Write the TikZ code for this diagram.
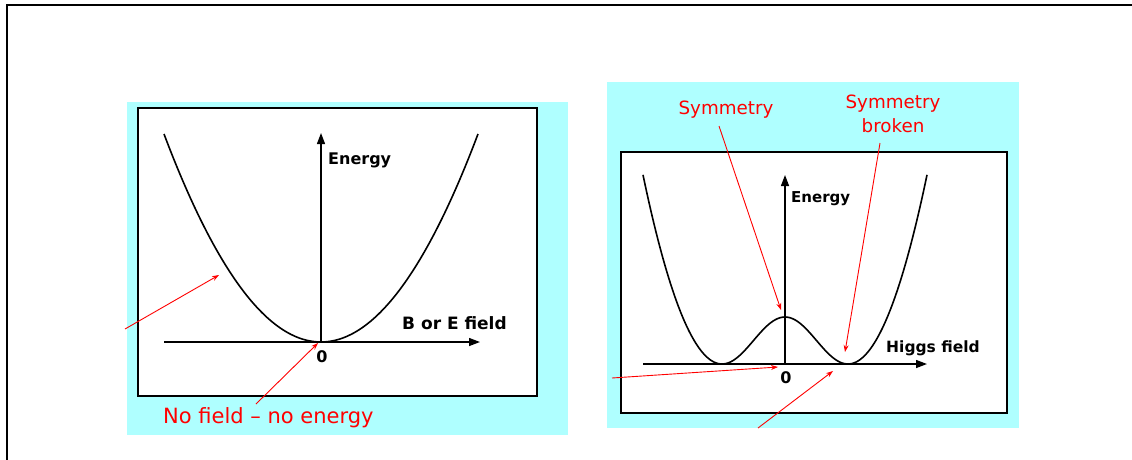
\documentclass[tikz,border=0pt]{standalone}
\usepackage{fontspec}
\setmainfont{DejaVu Sans}
\usetikzlibrary{arrows.meta}
\definecolor{cyanbg}{RGB}{175,255,255}
\definecolor{redl}{RGB}{255,0,0}
\begin{document}
\begin{tikzpicture}[x=1pt,y=-1pt,
  plotbox/.style={draw=black, line width=1.8pt, fill=white},
  axisline/.style={line width=1.3pt, -{Triangle[length=11pt,width=8pt]}},
  curveline/.style={line width=1.6pt},
  lab/.style={font=\bfseries\fontsize{16}{18}\selectfont, inner sep=0pt},
  redlab/.style={text=redl, inner sep=0pt, align=center},
  redarrow/.style={draw=redl, line width=0.9pt, -{Stealth[length=7pt,width=5pt]}}]
\useasboundingbox (0,0) rectangle (1132,459);
\fill[white] (0,0) rectangle (1132,459);
\draw[line width=2pt] (7,460) -- (7,5) -- (1133,5);

% ---------- left panel ----------
\fill[cyanbg] (127,102) rectangle (568,435);
\draw[plotbox] (138,108) rectangle (537,396);
\coordinate (lo) at (321,342);
\coordinate (lyt) at (321,133);
\coordinate (lxs) at (164,342);
\coordinate (lxt) at (480,342);
\draw[axisline] (lo) -- (lyt);
\draw[axisline] (lxs) -- (lxt);
\draw[curveline] plot[domain=-157:157, samples=80, smooth] ({321+\x},{342-208*(\x/157)^2});
\node[lab, anchor=west] (le) at (328,160) {Energy};
\node[lab, anchor=west, font=\bfseries\fontsize{17}{19}\selectfont] (lb) at (402,323) {B or E field};
\node[lab] (l0) at (322,357) {0};
\node[redlab, font=\fontsize{21}{24}\selectfont, anchor=west] (lnf) at (163,418) {No field – no energy};
\coordinate (la1s) at (125,329);
\coordinate (la1e) at (219,275);
\draw[redarrow] (la1s) -- (la1e);
\coordinate (la2s) at (256,404);
\coordinate (la2e) at (318,343);
\draw[redarrow] (la2s) -- (la2e);

% ---------- right panel ----------
\fill[cyanbg] (607,82) rectangle (1019,428);
\draw[plotbox] (621,152) rectangle (1007,413);
\coordinate (ro) at (785,364);
\coordinate (ryt) at (785,175);
\coordinate (rxs) at (643,364);
\coordinate (rxt) at (927,364);
\draw[axisline] (ro) -- (ryt);
\draw[axisline] (rxs) -- (rxt);
\draw[curveline] plot[domain=-142:-63, samples=40, smooth] ({785+\x},{364-0.0303*(-\x-63)^2})
  -- plot[domain=-63:63, samples=60, smooth] ({785+\x},{364-23.5*(1+cos(180*\x/63))})
  -- plot[domain=63:142, samples=40, smooth] ({785+\x},{364-0.0303*(\x-63)^2});
\node[lab, anchor=west, font=\bfseries\fontsize{15}{17}\selectfont] (re) at (791,199) {Energy};
\node[lab, anchor=west, font=\bfseries\fontsize{15.5}{17}\selectfont] (rh) at (886,348) {Higgs field};
\node[lab] (r0) at (786,378) {0};
\node[redlab, font=\fontsize{18.3}{24}\selectfont] (rs) at (726,110) {Symmetry};
\node[redlab, font=\fontsize{18.3}{24.5}\selectfont] (rsb) at (893,114) {Symmetry\\broken};
\coordinate (ra1s) at (719,126);
\coordinate (ra1e) at (781,310);
\draw[redarrow] (ra1s) -- (ra1e);
\coordinate (ra2s) at (880,143);
\coordinate (ra2e) at (845,352);
\draw[redarrow] (ra2s) -- (ra2e);
\coordinate (ra3s) at (612,378);
\coordinate (ra3e) at (778,367);
\draw[redarrow] (ra3s) -- (ra3e);
\coordinate (ra4s) at (758,428);
\coordinate (ra4e) at (833,371);
\draw[redarrow] (ra4s) -- (ra4e);
\end{tikzpicture}
\end{document}
